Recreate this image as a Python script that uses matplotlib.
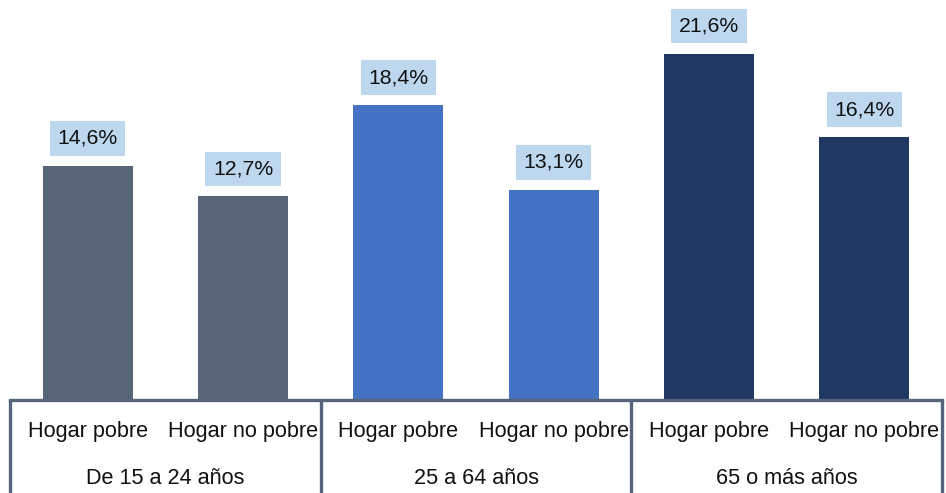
import matplotlib.pyplot as plt
from matplotlib.transforms import blended_transform_factory

# data
groups = ['De 15 a 24 años', '25 a 64 años', '65 o más años']
bar_labels = ['Hogar pobre', 'Hogar no pobre'] * 3
values = [14.6, 12.7, 18.4, 13.1, 21.6, 16.4]
colors = ['#586577', '#586577', '#4472C4', '#4472C4', '#203864', '#203864']

line_col = '#56657A'
font = 'Liberation Sans'

fig = plt.figure(figsize=(9.46, 4.93), dpi=100)
W, H = 946, 493
ax = fig.add_axes([10 / W, (H - 400) / H, 932 / W, 400 / H])

x = list(range(len(values)))
ax.bar(x, values, width=0.58, color=colors, zorder=2)
ax.set_xlim(-0.5, len(values) - 0.5)
ax.set_ylim(0, 24.95)

# value labels in light blue boxes
for xi, v in zip(x, values):
    ax.annotate(f'{v:.1f}%'.replace('.', ','), (xi, v), xytext=(0, 19.8),
                textcoords='offset points', ha='center', va='center',
                fontsize=15.3, family=font, color='#111111',
                bbox=dict(boxstyle='square,pad=0.36', fc='#BDD7EE', ec='none'))

for s in ['top', 'right', 'left']:
    ax.spines[s].set_visible(False)
ax.spines['bottom'].set_color(line_col)
ax.spines['bottom'].set_linewidth(2.4)
ax.set_yticks([])
ax.set_xticks(x)
ax.set_xticklabels(bar_labels, fontsize=15.6, family=font, color='#111111')
ax.tick_params(axis='x', length=0, pad=15)

# group separators and group names below the axis
tr = blended_transform_factory(ax.transData, ax.transAxes)
for sep in [-0.5, 1.5, 3.5, 5.5]:
    ax.plot([sep, sep], [0, -93 / 400], color=line_col, lw=2.4,
            transform=tr, clip_on=False, solid_capstyle='butt')
for i, g in enumerate(groups):
    ax.text(2 * i + 0.5, -78 / 400, g, transform=tr, ha='center', va='center',
            fontsize=15.6, family=font, color='#111111')

fig.savefig('out.png', dpi=100)
